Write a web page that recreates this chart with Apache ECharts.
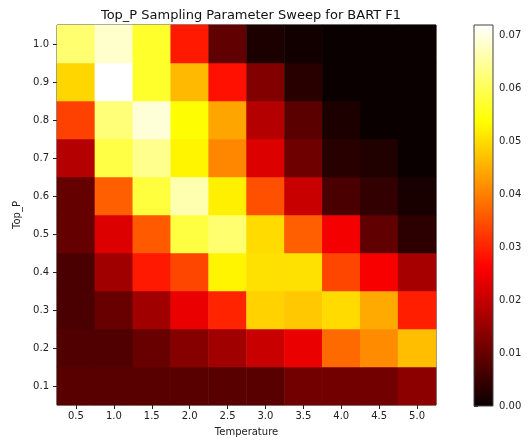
<!DOCTYPE html>
<html>
<head>
<meta charset="utf-8">
<script src="https://cdn.jsdelivr.net/npm/echarts@6/dist/echarts.min.js"></script>
<style>
  html, body { margin: 0; padding: 0; background: #fff; }
  #main { width: 528px; height: 444px; }
</style>
</head>
<body>
<div id="main"></div>
<script>
// 横轴 / 纵轴
var temperatures = ['0.5', '1.0', '1.5', '2.0', '2.5', '3.0', '3.5', '4.0', '4.5', '5.0'];
var topPs = ['0.1', '0.2', '0.3', '0.4', '0.5', '0.6', '0.7', '0.8', '0.9', '1.0'];
// 每行对应一个 Top_P (0.1 -> 1.0)，每列对应一个 Temperature
var f1Rows = [
    [0.0083, 0.0083, 0.0083, 0.0083, 0.0083, 0.0083, 0.0112, 0.0112, 0.0112, 0.0139],
    [0.0074, 0.0074, 0.0101, 0.0134, 0.0160, 0.0203, 0.0241, 0.0376, 0.0413, 0.0467],
    [0.0068, 0.0101, 0.0160, 0.0241, 0.0300, 0.0488, 0.0478, 0.0498, 0.0445, 0.0296],
    [0.0068, 0.0160, 0.0290, 0.0338, 0.0526, 0.0504, 0.0504, 0.0338, 0.0255, 0.0166],
    [0.0096, 0.0225, 0.0359, 0.0583, 0.0617, 0.0498, 0.0365, 0.0252, 0.0091, 0.0037],
    [0.0096, 0.0365, 0.0580, 0.0662, 0.0520, 0.0348, 0.0203, 0.0068, 0.0042, 0.0015],
    [0.0182, 0.0586, 0.0637, 0.0526, 0.0408, 0.0225, 0.0107, 0.0032, 0.0024, 0.0000],
    [0.0332, 0.0623, 0.0690, 0.0536, 0.0440, 0.0182, 0.0085, 0.0019, 0.0000, 0.0000],
    [0.0493, 0.0719, 0.0568, 0.0461, 0.0279, 0.0128, 0.0032, 0.0000, 0.0000, 0.0000],
    [0.0617, 0.0682, 0.0568, 0.0290, 0.0091, 0.0019, 0.0008, 0.0000, 0.0000, 0.0000]
];
var vMin = 0;
var vMax = 0.0719;
var cbTicks = ['0.00', '0.01', '0.02', '0.03', '0.04', '0.05', '0.06', '0.07'];

// matplotlib "hot" 色带
function hot(t) {
    var r = t < 0.365079 ? 0.0416 + (1 - 0.0416) * t / 0.365079 : 1;
    var g = t < 0.365079 ? 0 : (t < 0.746032 ? (t - 0.365079) / (0.746032 - 0.365079) : 1);
    var b = t < 0.746032 ? 0 : (t - 0.746032) / (1 - 0.746032);
    return 'rgb(' + Math.round(r * 255) + ',' + Math.round(g * 255) + ',' + Math.round(b * 255) + ')';
}
var hotColors = [];
var hotStops = [];
for (var i = 0; i <= 100; i++) {
    hotColors.push(hot(i / 100));
    hotStops.push({ offset: 1 - i / 100, color: hot(i / 100) });
}

var heatData = [];
for (var yi = 0; yi < topPs.length; yi++) {
    for (var xi = 0; xi < temperatures.length; xi++) {
        heatData.push([xi, yi, f1Rows[yi][xi]]);
    }
}

var font = 'DejaVu Sans';
var myChart = echarts.init(document.getElementById('main'));
var option = {
    backgroundColor: '#fff',
    animation: false,
    textStyle: { fontFamily: font },
    title: {
        text: 'Top_P Sampling Parameter Sweep for BART F1',
        left: 246,
        top: 4,
        textAlign: 'center',
        textStyle: { fontFamily: font, fontSize: 13, fontWeight: 'normal', color: '#111' }
    },
    grid: [
        { left: 57, right: 92, top: 25, bottom: 39, show: true, borderColor: '#222', borderWidth: 1, backgroundColor: 'transparent' },
        { left: 474, width: 19, top: 25, bottom: 38, show: true, borderColor: '#444', borderWidth: 1, backgroundColor: 'transparent', z: 5 }
    ],
    xAxis: [
        {
            type: 'category', gridIndex: 0, data: temperatures,
            name: 'Temperature', nameLocation: 'middle', nameGap: 22,
            nameTextStyle: { fontFamily: font, fontSize: 10, color: '#222' },
            axisLine: { show: false },
            axisTick: { show: true, alignWithLabel: true, length: 4, lineStyle: { color: '#222' } },
            axisLabel: { fontFamily: font, fontSize: 10, color: '#222', margin: 6 },
            splitLine: { show: false }
        },
        { type: 'value', gridIndex: 1, show: false, min: 0, max: 1 }
    ],
    yAxis: [
        {
            type: 'category', gridIndex: 0, data: topPs,
            name: 'Top_P', nameLocation: 'middle', nameGap: 32,
            nameTextStyle: { fontFamily: font, fontSize: 10, color: '#222' },
            axisLine: { show: false },
            axisTick: { show: true, alignWithLabel: true, length: 4, lineStyle: { color: '#222' } },
            axisLabel: { fontFamily: font, fontSize: 10, color: '#222', margin: 8 },
            splitLine: { show: false }
        },
        {
            type: 'value', gridIndex: 1, position: 'right', min: vMin, max: vMax, interval: 0.01,
            axisLine: { show: false },
            axisTick: { show: true, length: 4, lineStyle: { color: '#222' } },
            axisLabel: {
                fontFamily: font, fontSize: 10, color: '#222', margin: 6,
                showMaxLabel: false,
                formatter: function (v) {
                    var k = v * 100;
                    if (Math.abs(k - Math.round(k)) > 1e-6) { return ''; }
                    return cbTicks[Math.round(k)] || '';
                }
            },
            splitLine: { show: false }
        }
    ],
    visualMap: {
        show: false,
        type: 'continuous',
        seriesIndex: 0,
        min: vMin,
        max: vMax,
        inRange: { color: hotColors }
    },
    graphic: [{
        type: 'rect',
        shape: { x: 474, y: 25, width: 19, height: 381 },
        style: { fill: new echarts.graphic.LinearGradient(0, 0, 0, 1, hotStops) },
        z: 1
    }],
    series: [{
        type: 'heatmap',
        xAxisIndex: 0,
        yAxisIndex: 0,
        data: heatData,
        itemStyle: { borderWidth: 0 },
        emphasis: { disabled: true }
    }]
};
myChart.setOption(option);
</script>
</body>
</html>
